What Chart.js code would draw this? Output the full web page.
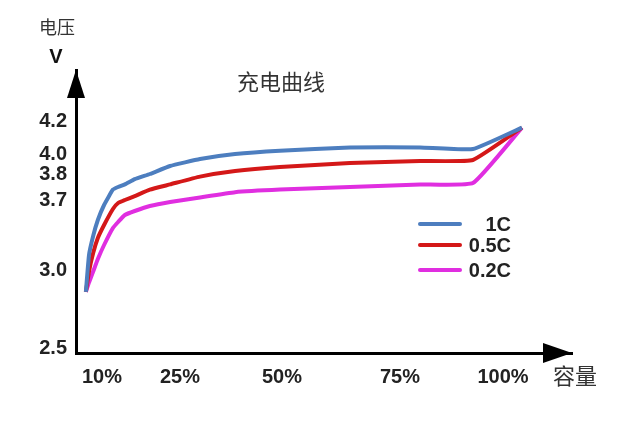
<!DOCTYPE html>
<html>
<head>
<meta charset="utf-8">
<script src="https://cdn.jsdelivr.net/npm/chart.js@4.4.1/dist/chart.umd.min.js"></script>
<style>
    html, body { margin: 0; padding: 0; background: #ffffff; }
    #wrap { width: 630px; height: 429px; }
</style>
</head>
<body>
<div id="wrap"><canvas id="chargeChart" width="630" height="429"></canvas></div>
<script>
// Veriler
const capacity = [6.9, 7.5, 8.3, 9.2, 10.4, 12.1, 13.1, 14.4, 16.3, 19.2, 23.1, 29.9, 38.5, 49.5, 64.4, 79.9, 92.7, 104.6];
const volt1C  = [2.86, 3.15, 3.34, 3.50, 3.65, 3.74, 3.75, 3.76, 3.78, 3.80, 3.88, 3.95, 4.00, 4.02, 4.04, 4.04, 4.03, 4.16];
const volt05C = [2.86, 2.99, 3.17, 3.32, 3.45, 3.61, 3.67, 3.70, 3.715, 3.74, 3.76, 3.79, 3.83, 3.87, 3.91, 3.93, 3.94, 4.16];
const volt02C = [2.86, 2.92, 2.99, 3.11, 3.25, 3.42, 3.48, 3.55, 3.59, 3.64, 3.68, 3.71, 3.73, 3.74, 3.75, 3.76, 3.765, 4.16];
const seriesLabels = ['1C', '0.5C', '0.2C'];

const xTickValues = [10, 25, 50, 75, 100];
const xTickLabels = ['10%', '25%', '50%', '75%', '100%'];
const yTickValues = [2.5, 3.0, 3.7, 3.8, 4.0, 4.2];
const yTickLabels = ['2.5', '3.0', '3.7', '3.8', '4.0', '4.2'];

// Eksenler şematik (doğrusal değil): tick değerlerinin eksen üzerindeki yeri
const xTickPos = [26, 104, 206, 324, 427];
const yTickPos = [5, 83, 153, 179, 199, 232];
const X_MAX = 496;
const Y_MAX = 283;

const colors = ['#4d7ebf', '#d41818', '#e02ee0'];
const fontLatin = "'Liberation Sans', Arial, sans-serif";
const fontCJK = "'Noto Sans CJK SC', sans-serif";

// Parçalı doğrusal dönüşüm (uçlarda dışa doğru uzatılır)
function warp(v, vals, pos) {
    let i = 0;
    if (v >= vals[vals.length - 1]) i = vals.length - 2;
    else while (i < vals.length - 2 && v > vals[i + 1]) i++;
    const t = (v - vals[i]) / (vals[i + 1] - vals[i]);
    return pos[i] + t * (pos[i + 1] - pos[i]);
}

function makeData(volts) {
    return capacity.map((c, i) => ({
        x: warp(c, xTickValues, xTickPos),
        y: warp(volts[i], yTickValues, yTickPos)
    }));
}

// Ok başları, eksen yazıları ve gösterge
const decorPlugin = {
    id: 'decor',
    afterDraw(chart) {
        const ctx = chart.ctx;
        const a = chart.chartArea;
        ctx.save();
        ctx.fillStyle = '#000';

        // dikey ok
        ctx.beginPath();
        ctx.moveTo(a.left, a.top);
        ctx.lineTo(a.left - 9, a.top + 28);
        ctx.lineTo(a.left + 9, a.top + 28);
        ctx.closePath();
        ctx.fill();

        // yatay ok
        ctx.beginPath();
        ctx.moveTo(a.right, a.bottom);
        ctx.lineTo(a.right - 29, a.bottom - 10);
        ctx.lineTo(a.right - 29, a.bottom + 10);
        ctx.closePath();
        ctx.fill();

        ctx.textAlign = 'center';
        ctx.textBaseline = 'middle';
        ctx.fillStyle = '#333';
        ctx.font = '18px ' + fontCJK;
        ctx.fillText('电压', 57, 27);
        ctx.font = '22px ' + fontCJK;
        ctx.fillText('充电曲线', 281, 82);
        ctx.fillText('容量', 575, 376);
        ctx.fillStyle = '#111';
        ctx.font = 'bold 20px ' + fontLatin;
        ctx.fillText('V', 56, 57);

        // gösterge
        const rows = [224, 245, 270];
        ctx.textAlign = 'right';
        ctx.font = 'bold 20px ' + fontLatin;
        chart.data.datasets.forEach((ds, i) => {
            ctx.strokeStyle = ds.borderColor;
            ctx.lineWidth = 4;
            ctx.lineCap = 'round';
            ctx.beginPath();
            ctx.moveTo(420, rows[i]);
            ctx.lineTo(460, rows[i]);
            ctx.stroke();
            ctx.fillStyle = '#222';
            ctx.fillText(ds.label, 511, rows[i] + 1);
        });
        ctx.restore();
    }
};

const ctx = document.getElementById('chargeChart');
new Chart(ctx, {
    type: 'line',
    data: {
        datasets: [volt1C, volt05C, volt02C].map((v, i) => ({
            label: seriesLabels[i],
            data: makeData(v),
            borderColor: colors[i],
            backgroundColor: colors[i],
            borderWidth: 4,
            pointRadius: 0,
            tension: 0.12,
            borderJoinStyle: 'round',
            fill: false
        }))
    },
    options: {
        responsive: false,
        animation: false,
        layout: { padding: { top: 70, right: 58, left: 0, bottom: 0 } },
        plugins: {
            legend: { display: false },
            tooltip: { enabled: false }
        },
        scales: {
            x: {
                type: 'linear',
                min: 0,
                max: X_MAX,
                afterFit(scale) { scale.height = 76; },
                afterBuildTicks(scale) { scale.ticks = xTickPos.map(v => ({ value: v })); },
                grid: { display: false, drawTicks: false },
                border: { display: true, color: '#000', width: 3 },
                ticks: {
                    autoSkip: false,
                    maxRotation: 0,
                    padding: 12,
                    color: '#222',
                    font: { family: fontLatin, size: 20, weight: 'bold' },
                    callback: (val, i) => xTickLabels[i]
                }
            },
            y: {
                type: 'linear',
                min: 0,
                max: Y_MAX,
                afterFit(scale) { scale.width = 76; },
                afterBuildTicks(scale) { scale.ticks = yTickPos.map(v => ({ value: v })); },
                grid: { display: false, drawTicks: false },
                border: { display: true, color: '#000', width: 3 },
                ticks: {
                    autoSkip: false,
                    padding: 9,
                    color: '#222',
                    font: { family: fontLatin, size: 20, weight: 'bold' },
                    callback: (val, i) => yTickLabels[i]
                }
            }
        }
    },
    plugins: [decorPlugin]
});
</script>
</body>
</html>
